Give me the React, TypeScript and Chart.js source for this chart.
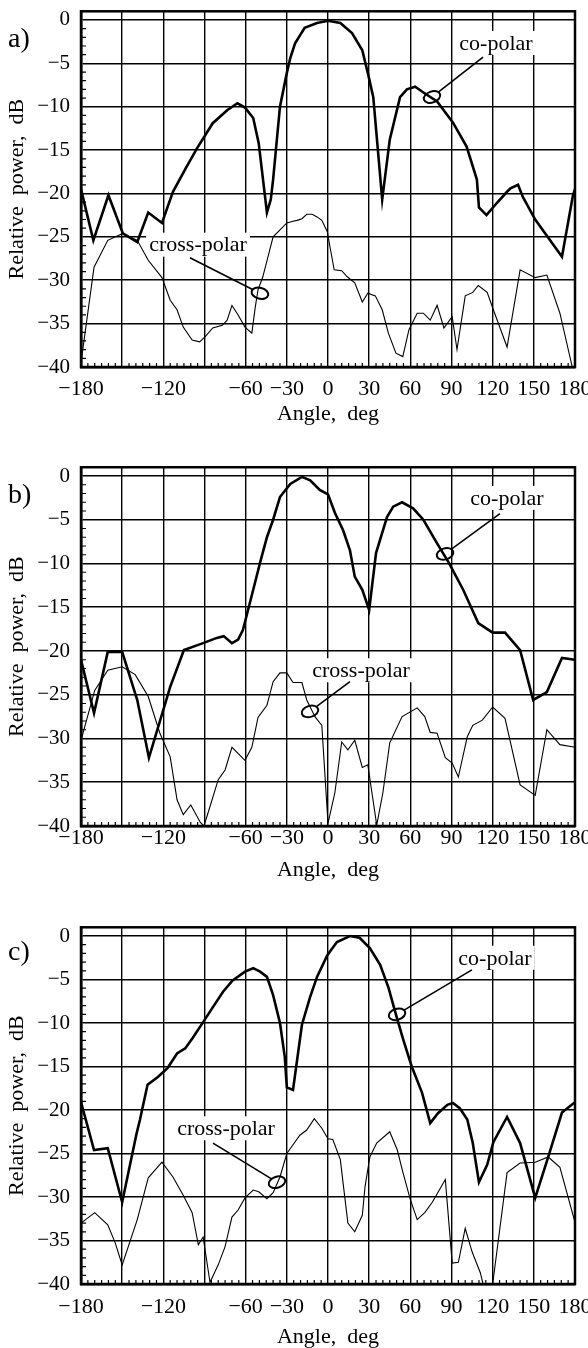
import React, { useEffect, useRef } from 'react';
import { Chart, registerables } from 'chart.js';

Chart.register(...registerables);

// ---------- axes ----------
const X_GRID = [-180, -150, -120, -90, -60, -30, 0, 30, 60, 90, 120, 150, 180];
const X_LABELS = [-180, -120, -60, -30, 0, 30, 60, 90, 120, 150, 180];
const Y_GRID = [-40, -35, -30, -25, -20, -15, -10, -5, 0];

// ---------- panel a ----------
const A_CO_ANGLE = [-180, -171, -160, -149.5, -139, -131, -121, -113, -103, -95.5, -84, -73.5, -66, -60.5, -54.5, -50.5, -44.5, -41.7, -40, -35, -30, -27.5, -24, -17, -8, 0, 9, 17.5, 25, 29, 33, 39.5, 45, 52.5, 57.5, 63.5, 69, 79.5, 91, 101, 108.5, 110, 115.5, 123, 130.5, 133, 138.5, 142, 151, 170.5, 178.5, 180];
const A_CO_DB = [-19.5, -25.4, -20.2, -24.6, -25.6, -22.2, -23.4, -19.8, -16.9, -14.8, -11.9, -10.4, -9.6, -10.1, -11.3, -14.2, -22.2, -20.7, -18.4, -10.0, -6.1, -4.4, -2.7, -0.9, -0.35, -0.1, -0.35, -1.5, -3.5, -6.1, -8.9, -20.7, -13.8, -8.9, -8.0, -7.7, -8.3, -9.4, -11.8, -14.6, -18.4, -21.6, -22.5, -21.1, -19.8, -19.4, -19.0, -20.4, -23.0, -27.3, -20.2, -19.5];
const A_CROSS_ANGLE = [-180, -170.5, -160.5, -149.5, -139, -131, -121, -115, -110, -105.5, -99, -93.5, -89.5, -84, -77, -73.5, -70, -65.5, -60.5, -55.5, -53, -51, -47.5, -40, -35, -30, -25.5, -22.5, -19, -15.5, -11.5, -8, -4.5, -0.5, 1.5, 4.5, 10, 14, 19.5, 25, 29, 34.5, 39.5, 44, 49.5, 54.5, 59, 65, 69.5, 74.5, 79.5, 84.5, 90.5, 94, 100, 105.5, 109.5, 116, 120.5, 130.5, 140, 151, 159.5, 169, 178];
const A_CROSS_DB = [-39.5, -28.5, -25.4, -24.6, -25.4, -27.7, -29.7, -32.3, -33.4, -35.4, -36.9, -37.1, -36.5, -35.5, -35.2, -34.6, -32.9, -34.0, -35.4, -36.1, -33.1, -31.1, -29.6, -25.0, -24.2, -23.4, -23.2, -23.1, -22.9, -22.4, -22.4, -22.7, -23.1, -24.4, -26.2, -28.8, -28.9, -29.6, -30.3, -32.5, -31.5, -31.8, -33.4, -36.1, -38.4, -38.8, -35.7, -33.8, -33.8, -34.6, -32.9, -35.5, -34.2, -38.0, -31.8, -31.4, -30.6, -31.4, -33.4, -37.7, -28.8, -29.7, -29.4, -33.8, -40];

// ---------- panel b ----------
const B_CO_ANGLE = [-180, -170.5, -160.5, -150, -139, -130.5, -115, -105, -91, -81, -76, -70, -65.5, -62, -54.5, -49.5, -44.5, -40, -35, -27.5, -19, -13, -6, 0, 5, 11, 16, 19.5, 25, 30, 35, 43, 47.5, 54, 62, 69.5, 79.5, 88, 98.5, 109.5, 120, 129, 140, 149.5, 159.5, 170.5, 180];
const B_CO_DB = [-21.0, -27.1, -20.1, -20.1, -25.6, -32.2, -24.1, -19.9, -19.1, -18.5, -18.3, -19.1, -18.7, -17.6, -13.0, -9.9, -7.0, -5.0, -2.4, -0.9, -0.1, -0.5, -1.6, -2.1, -4.2, -6.2, -8.5, -11.5, -13.0, -15.3, -8.8, -4.7, -3.5, -3.0, -3.7, -5.0, -7.7, -9.9, -13.0, -16.8, -17.9, -17.9, -19.9, -25.6, -24.7, -20.8, -21.0];
const B_CROSS_ANGLE = [-180, -170, -160.5, -150, -140.5, -131, -122.5, -115, -110, -105.5, -100, -93, -90.5, -88, -80, -75, -70, -60.5, -55.5, -51, -44.5, -40, -35, -30, -25.5, -19, -15.5, -9.5, -4.5, 0, 5, 10, 14.5, 19.5, 25, 29, 35.5, 40, 45, 54, 65, 70.5, 74.5, 79.5, 85.5, 90.5, 95, 101.5, 105.5, 112.5, 120, 129, 140, 151, 159.5, 169, 180];
const B_CROSS_DB = [-30.2, -24.5, -22.2, -21.8, -22.7, -25.2, -29.4, -32.1, -37.0, -38.7, -37.6, -39.6, -40, -38.8, -34.7, -33.6, -31.0, -32.5, -31.0, -27.6, -26.2, -23.5, -22.5, -22.5, -23.6, -23.6, -25.6, -27.5, -28.5, -39.7, -36.2, -30.4, -31.3, -30.2, -33.3, -33.0, -39.9, -36.2, -30.5, -27.5, -26.5, -27.5, -29.3, -29.4, -32.2, -32.8, -34.4, -29.8, -28.5, -27.9, -26.4, -27.7, -35.3, -36.5, -29.0, -30.7, -31.0];

// ---------- panel c ----------
const C_CO_ANGLE = [-180, -170.5, -160.5, -150, -139.5, -137, -131.5, -124, -117, -110, -104, -98.5, -91, -84, -76.5, -69.5, -60.5, -54.5, -49.5, -44.5, -40, -35, -31.5, -30, -25.5, -19, -13, -8, -0.5, 6.5, 16, 23, 30.5, 38, 44, 50, 55, 61, 68.5, 74.5, 80, 87, 91, 96, 101.5, 105.5, 110, 116, 120.5, 130.5, 140, 151, 160.5, 170.5, 180];
const C_CO_DB = [-19.1, -24.6, -24.4, -30.6, -22.7, -21.1, -17.1, -16.2, -15.2, -13.5, -12.9, -11.7, -9.9, -8.2, -6.4, -5.1, -4.1, -3.7, -4.1, -4.7, -6.8, -10.0, -13.9, -17.4, -17.7, -10.2, -7.0, -4.7, -2.2, -0.7, 0, -0.2, -1.4, -3.3, -5.9, -9.3, -12.0, -15.0, -18.0, -21.5, -20.4, -19.4, -19.2, -19.8, -21.1, -23.8, -28.3, -26.3, -23.7, -20.8, -23.8, -30.1, -25.4, -20.3, -19.1];
const C_CROSS_ANGLE = [-180, -170, -160.5, -155, -150, -139, -131, -121, -113, -105.5, -99, -94.5, -91, -86, -80, -75, -70, -65.5, -60.5, -54.5, -50.5, -44.5, -40, -35, -30, -25.5, -20.5, -15.5, -10, -4.5, 0, 3.5, 9, 11, 14.5, 19.5, 25, 27, 30.5, 35.5, 45, 50.5, 54.5, 60, 65, 70.5, 76, 85.5, 90.5, 95, 100, 105, 111, 113, 120, 130.5, 140, 151, 160.5, 169, 180];
const C_CROSS_DB = [-33.0, -31.8, -33.2, -35.3, -37.8, -32.6, -27.8, -26.0, -27.7, -29.8, -31.8, -35.5, -34.6, -39.8, -37.8, -35.7, -32.3, -31.5, -30.1, -29.2, -29.4, -30.2, -29.5, -27.7, -25.0, -24.0, -22.9, -22.3, -21.0, -22.1, -23.3, -23.4, -25.7, -28.4, -33.0, -34.0, -32.1, -28.8, -25.4, -23.8, -22.5, -24.6, -27.1, -30.3, -32.6, -31.8, -30.6, -28.0, -37.6, -37.5, -33.6, -36.3, -38.7, -40, -40, -27.2, -26.1, -26.0, -25.4, -26.6, -32.9];

const FONT = "'Liberation Serif', 'Times New Roman', Times, serif";

type Note = { text: string; tx: number; ty: number; lx: number; ly: number; ex: number; ey: number; rot: number };

type Panel = {
  label: string;
  top: number;
  h: number;
  padTop: number;
  padBottom: number;
  xh: number;
  tickPad: number;
  labelY: number;
  coA: number[];
  coD: number[];
  crA: number[];
  crD: number[];
  notes: Note[];
};

const PANELS: Panel[] = [
  {
    label: 'a)', top: 0, h: 430, padTop: 11.3, padBottom: 3, xh: 60, tickPad: 9, labelY: 47,
    coA: A_CO_ANGLE, coD: A_CO_DB, crA: A_CROSS_ANGLE, crD: A_CROSS_DB,
    notes: [
      { text: 'co-polar', tx: 122.4, ty: -2.65, lx: 113.0, ly: -4.27, ex: 75.8, ey: -8.88, rot: -0.35 },
      { text: 'cross-polar', tx: -94.7, ty: -25.9, lx: -100.6, ly: -27.4, ex: -49.6, ey: -31.5, rot: 0.25 },
    ],
  },
  {
    label: 'b)', top: 440, h: 446, padTop: 27.25, padBottom: 3, xh: 57, tickPad: -1, labelY: 63,
    coA: B_CO_ANGLE, coD: B_CO_DB, crA: B_CROSS_ANGLE, crD: B_CROSS_DB,
    notes: [
      { text: 'co-polar', tx: 130.4, ty: -2.5, lx: 125.3, ly: -4.3, ex: 85.3, ey: -8.9, rot: -0.3 },
      { text: 'cross-polar', tx: 24.1, ty: -22.2, lx: 16.0, ly: -23.5, ex: -13.1, ey: -26.9, rot: -0.3 },
    ],
  },
  {
    label: 'c)', top: 900, h: 452, padTop: 27.3, padBottom: 2, xh: 66, tickPad: 10, labelY: 60,
    coA: C_CO_ANGLE, coD: C_CO_DB, crA: C_CROSS_ANGLE, crD: C_CROSS_DB,
    notes: [
      { text: 'co-polar', tx: 121.7, ty: -2.5, lx: 104.9, ly: -3.9, ex: 50.3, ey: -9.0, rot: -0.3 },
      { text: 'cross-polar', tx: -74.3, ty: -22.1, lx: -83.8, ly: -23.8, ex: -37.2, ey: -28.3, rot: -0.3 },
    ],
  },
];

const fmt = (v: number) => (v < 0 ? '\u2212' + Math.abs(v) : String(v));

function makeDecor(p: Panel) {
  return {
    id: 'decor',
    beforeDatasetsDraw(chart: any) {
      const { ctx, chartArea: ca, scales } = chart;
      const x = scales.x;
      const y = scales.y;
      ctx.save();
      ctx.strokeStyle = '#000';
      ctx.lineWidth = 1.2;
      ctx.beginPath();
      for (let v = -39; v < 0; v++) {
        if (v % 5 === 0) continue;
        const py = y.getPixelForValue(v);
        ctx.moveTo(ca.left, py);
        ctx.lineTo(ca.left + 5, py);
      }
      for (let a = -175; a < 180; a += 5) {
        if (a % 30 === 0) continue;
        const px = x.getPixelForValue(a);
        ctx.moveTo(px, ca.bottom);
        ctx.lineTo(px, ca.bottom - 4);
      }
      ctx.stroke();
      ctx.lineWidth = 2.5;
      ctx.strokeRect(ca.left, ca.top, ca.right - ca.left, ca.bottom - ca.top);
      // annotation labels with white boxes
      ctx.font = `22px ${FONT}`;
      ctx.textAlign = 'center';
      ctx.textBaseline = 'middle';
      for (const n of p.notes) {
        const cx = x.getPixelForValue(n.tx);
        const cy = y.getPixelForValue(n.ty);
        const w = ctx.measureText(n.text).width;
        ctx.fillStyle = '#fff';
        ctx.fillRect(cx - w / 2 - 3, cy - 12, w + 6, 24);
        ctx.fillStyle = '#000';
        ctx.fillText(n.text, cx, cy + 1);
      }
      ctx.restore();
    },
    afterDatasetsDraw(chart: any) {
      const { ctx, scales } = chart;
      const x = scales.x;
      const y = scales.y;
      ctx.save();
      ctx.strokeStyle = '#000';
      const rx = 8.5;
      const ry = 5.5;
      for (const n of p.notes) {
        const ex = x.getPixelForValue(n.ex);
        const ey = y.getPixelForValue(n.ey);
        const sx = x.getPixelForValue(n.lx);
        const sy = y.getPixelForValue(n.ly);
        const dx = sx - ex;
        const dy = sy - ey;
        const c = Math.cos(-n.rot);
        const s = Math.sin(-n.rot);
        const lx = dx * c - dy * s;
        const ly = dx * s + dy * c;
        const t = 1 / Math.sqrt((lx / rx) ** 2 + (ly / ry) ** 2);
        ctx.lineWidth = 1.6;
        ctx.beginPath();
        ctx.moveTo(sx, sy);
        ctx.lineTo(ex + dx * t, ey + dy * t);
        ctx.stroke();
        ctx.lineWidth = 2;
        ctx.beginPath();
        ctx.ellipse(ex, ey, rx, ry, n.rot, 0, Math.PI * 2);
        ctx.stroke();
      }
      ctx.font = `28px ${FONT}`;
      ctx.fillStyle = '#000';
      ctx.textAlign = 'left';
      ctx.textBaseline = 'alphabetic';
      ctx.fillText(p.label, 8, p.labelY);
      ctx.restore();
    },
  };
}

function makeConfig(p: Panel): any {
  const xTickFont = { family: FONT, size: 22 };
  const yTickFont = { family: FONT, size: 21 };
  const titleFont = { family: FONT, size: 22 };
  return {
    type: 'line',
    data: {
      datasets: [
        {
          label: 'co-polar',
          data: p.coA.map((a, i) => ({ x: a, y: p.coD[i] })),
          borderColor: '#000',
          borderWidth: 2.6,
          pointRadius: 0,
          tension: 0,
          fill: false,
        },
        {
          label: 'cross-polar',
          data: p.crA.map((a, i) => ({ x: a, y: p.crD[i] })),
          borderColor: '#000',
          borderWidth: 1.1,
          pointRadius: 0,
          tension: 0,
          fill: false,
        },
      ],
    },
    options: {
      responsive: false,
      animation: false,
      devicePixelRatio: 1,
      layout: { padding: { top: p.padTop, left: 0, right: 13, bottom: p.padBottom } },
      plugins: { legend: { display: false }, tooltip: { enabled: false } },
      scales: {
        x: {
          type: 'linear',
          min: -180,
          max: 180,
          afterBuildTicks: (s: any) => {
            s.ticks = X_GRID.map((v) => ({ value: v }));
          },
          afterFit: (s: any) => {
            s.height = p.xh;
            s.paddingLeft = 0;
            s.paddingRight = 0;
          },
          ticks: {
            autoSkip: false,
            maxRotation: 0,
            minRotation: 0,
            padding: p.tickPad,
            color: '#000',
            font: xTickFont,
            callback: (v: number) => (X_LABELS.includes(v) ? fmt(v) : ''),
          },
          grid: { color: '#000', lineWidth: 1.4, drawTicks: false },
          border: { color: '#000', width: 2.5 },
          title: { display: true, text: 'Angle,  deg', color: '#000', font: titleFont, padding: 0 },
        },
        y: {
          type: 'linear',
          min: -40,
          max: 1,
          afterBuildTicks: (s: any) => {
            s.ticks = Y_GRID.map((v) => ({ value: v }));
          },
          afterFit: (s: any) => {
            s.width = 81;
            s.paddingTop = 0;
            s.paddingBottom = 0;
          },
          ticks: {
            autoSkip: false,
            padding: 11,
            color: '#000',
            font: yTickFont,
            callback: (v: number) => fmt(v),
          },
          grid: { color: '#000', lineWidth: 1.6, drawTicks: false },
          border: { color: '#000', width: 2.5 },
          title: { display: true, text: 'Relative  power,  dB', color: '#000', font: titleFont, padding: { top: 4, bottom: 0 } },
        },
      },
    },
    plugins: [makeDecor(p)],
  };
}

function PanelChart({ p }: { p: Panel }) {
  const ref = useRef<HTMLCanvasElement>(null);
  useEffect(() => {
    const chart = new Chart(ref.current as HTMLCanvasElement, makeConfig(p));
    return () => chart.destroy();
  }, [p]);
  return (
    <canvas
      ref={ref}
      width={588}
      height={p.h}
      style={{ position: 'absolute', left: 0, top: p.top, width: 588, height: p.h, display: 'block' }}
    />
  );
}

export default function App() {
  return (
    <div style={{ position: 'absolute', left: 0, top: 0, width: 588, height: 1348, background: '#fff', overflow: 'hidden' }}>
      {PANELS.map((p) => (
        <PanelChart key={p.label} p={p} />
      ))}
    </div>
  );
}
